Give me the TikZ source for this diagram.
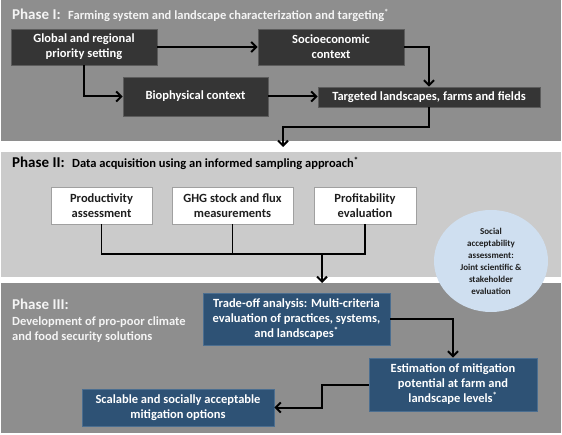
\documentclass[tikz,border=0pt]{standalone}
\usepackage{fontspec}
\setmainfont{Carlito}
\usetikzlibrary{arrows.meta,shapes.geometric}
\definecolor{phaseA}{HTML}{8E8E8E}
\definecolor{phaseB}{HTML}{CBCBCB}
\definecolor{darkfill}{HTML}{353535}
\definecolor{darkline}{HTML}{5C5C5C}
\definecolor{bluefill}{HTML}{2E5275}
\definecolor{blueline}{HTML}{4B6E90}
\definecolor{whiteline}{HTML}{A0A0A0}
\definecolor{circfill}{HTML}{CFDFF0}
\definecolor{lighttext}{HTML}{F4F4F4}
\definecolor{darktext}{HTML}{1E1E1E}
\begin{document}
\begin{tikzpicture}[x=1pt,y=-1pt,
  boxtext/.style={inner sep=0pt, align=center, font=\bfseries\fontsize{12.5}{15}\selectfont},
  dkbox/.style={boxtext, draw=darkline, fill=darkfill, text=white, line width=0.8pt},
  wtbox/.style={boxtext, draw=whiteline, fill=white, text=darktext, line width=0.8pt},
  blbox/.style={boxtext, draw=blueline, fill=bluefill, text=white, line width=0.8pt},
  bigtitle/.style={font=\bfseries\fontsize{15}{18}\selectfont},
  titlenode/.style={anchor=base west, inner sep=0pt},
  arr/.style={line width=2pt, -{Straight Barb[length=5pt,width=10pt]}},
  busline/.style={line width=1.8pt}
]
\useasboundingbox (0,0) rectangle (562,435);
\fill[white] (0,0) rectangle (562,435);
% panels
\fill[phaseA] (1,0) rectangle (561,141);
\fill[phaseB] (1,152) rectangle (561,277);
\fill[phaseA] (1,283) rectangle (561,433);

% ---------- Phase I ----------
\node[titlenode, text=lighttext, bigtitle] (t1) at (12,20) {Phase I:};
\node[titlenode, text=lighttext, font=\bfseries\fontsize{12.5}{15}\selectfont] (t1b) at (68,20)
  {Farming system and landscape characterization and targeting\textsuperscript{*}};

\node[dkbox, minimum width=146pt, minimum height=36pt] (global) at (84,47) {Global and regional\\priority setting};
\node[dkbox, minimum width=146pt, minimum height=36pt] (socio) at (331,47) {Socioeconomic\\context};
\node[dkbox, minimum width=145pt, minimum height=39pt] (bio) at (195.5,96.5) {Biophysical context};
\node[dkbox, minimum width=222pt, minimum height=20pt] (target) at (429,97) {Targeted landscapes, farms and fields};

\coordinate (p1out) at (283,147);

\draw[arr] (global.east) -- (socio.west);
\draw[arr] (global.south) |- (bio.west);
\draw[arr] (bio.east) -- (bio.east -| target.west);
\draw[arr] (socio.east) -| (target.north);
\draw[arr] (target.south) -- ++(0,20) -| (p1out);

% ---------- Phase II ----------
\node[titlenode, text=black, bigtitle] (t2) at (12,168) {Phase II:};
\node[titlenode, text=black, font=\bfseries\fontsize{12.5}{15}\selectfont] (t2b) at (72,168)
  {Data acquisition using an informed sampling approach\textsuperscript{*}};

\node[wtbox, minimum width=101pt, minimum height=37pt] (prod) at (101.5,205.5) {Productivity\\assessment};
\node[wtbox, minimum width=121pt, minimum height=37pt] (ghg) at (232.5,205.5) {GHG stock and flux\\measurements};
\node[wtbox, minimum width=102pt, minimum height=37pt] (prof) at (365,205.5) {Profitability\\evaluation};

\coordinate (bus) at (322,254);
\coordinate (p2out) at (322,283);

\draw[busline] (prod.south) |- (bus) -| (prof.south);
\draw[busline] (ghg.south) -- (ghg.south |- bus);
\draw[arr] (bus) -- (p2out);

% ---------- Phase III ----------
\node[titlenode, text=lighttext, bigtitle] (t3) at (12,310) {Phase III:};
\node[titlenode, text=lighttext, font=\bfseries\fontsize{12.5}{14.5}\selectfont] (t3b) at (12,326)
  {Development of pro-poor climate};
\node[titlenode, text=lighttext, font=\bfseries\fontsize{12.5}{14.5}\selectfont] (t3c) at (12,340.5)
  {and food security solutions};

\node[blbox, minimum width=187pt, minimum height=52pt] (trade) at (296.5,319)
  {Trade-off analysis: Multi-criteria\\evaluation of practices, systems,\\and landscapes\textsuperscript{*}};
\node[blbox, minimum width=168pt, minimum height=53pt] (est) at (453,384.5)
  {Estimation of mitigation\\potential at farm and\\landscape levels\textsuperscript{*}};
\node[blbox, minimum width=192pt, minimum height=37pt] (scal) at (178,407.5)
  {Scalable and socially acceptable\\mitigation options};

\draw[arr] (trade.east) -| (est.north);
\draw[arr] (est.west) -- ++(-47,0) |- (scal.east);

% ---------- Social acceptability ----------
\node[ellipse, fill=circfill, draw=none, minimum width=114pt, minimum height=102pt, inner sep=0pt,
      align=center, text=darktext, font=\bfseries\fontsize{9}{12}\selectfont] (social) at (491,261)
  {Social\\acceptability\\assessment:\\Joint scientific \&\\stakeholder\\evaluation};
\end{tikzpicture}
\end{document}
